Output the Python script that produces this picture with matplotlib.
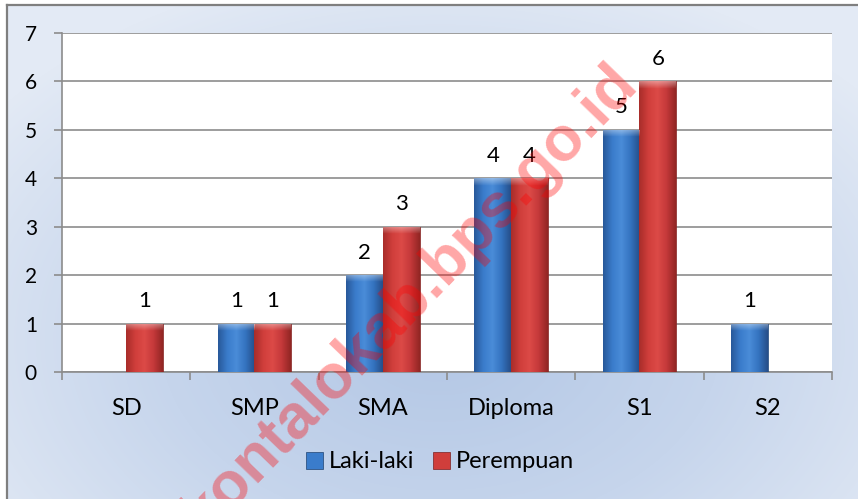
import numpy as np
import matplotlib.pyplot as plt
from matplotlib.colors import LinearSegmentedColormap

# data
categories = ["SD", "SMP", "SMA", "Diploma", "S1", "S2"]
laki_laki = [0, 1, 2, 4, 5, 1]
perempuan = [1, 1, 3, 4, 6, 0]
series_names = ["Laki-laki", "Perempuan"]
y_ticks = [0, 1, 2, 3, 4, 5, 6, 7]
watermark = "kontalokab.bps.go.id"

plt.rcParams['font.family'] = ['Lato', 'DejaVu Sans']

W, H = 858, 499
fig = plt.figure(figsize=(W / 100, H / 100), dpi=100)

# chart area background (soft blue radial gradient with a grey frame)
bg = fig.add_axes([0, 0, 1, 1], zorder=-10)
bg.axis('off')
yy, xx = np.mgrid[5:H, 7:W]
r = np.sqrt(((xx - 440) / 560.0) ** 2 + ((yy - 340) / 380.0) ** 2)
r = np.clip(r, 0, 1)
bg_cmap = LinearSegmentedColormap.from_list("bg", ["#b3c7e5", "#c6d5ec", "#e3eaf5"])
bg.imshow(r, extent=[7, W, H, 5], cmap=bg_cmap, aspect='auto', origin='upper')
bg.plot([7, 7], [H, 5], color='#7f7f7f', lw=1.6)
bg.plot([7, W], [5, 5], color='#7f7f7f', lw=1.6)
bg.set_xlim(0, W)
bg.set_ylim(H, 0)

ax = fig.add_axes([62 / W, 1 - 372 / H, 770 / W, 339 / H])
ax.set_facecolor('white')

x = np.arange(len(categories))
w = 0.286

blue_cmap = LinearSegmentedColormap.from_list(
    "b", ["#28599a", "#3a7ccb", "#4a8cd8", "#3473c0", "#264f8a"])
red_cmap = LinearSegmentedColormap.from_list(
    "r", ["#a82d2a", "#d03e3b", "#dc4a47", "#c5393a", "#922624"])


def shade_bars(bars, cmap):
    grad = np.linspace(0, 1, 64).reshape(1, -1)
    for b in bars:
        h = b.get_height()
        if h <= 0:
            continue
        x0 = b.get_x()
        x1 = x0 + b.get_width()
        im = ax.imshow(grad, extent=[x0, x1, 0, h], cmap=cmap,
                       aspect='auto', zorder=3.1, origin='lower')
        im.set_clip_path(b)
        # light bevel at the top of the bar
        cap = np.zeros((16, 2, 4))
        cap[..., :3] = 1.0
        cap[..., 3] = np.linspace(0.0, 0.4, 16).reshape(-1, 1)
        im2 = ax.imshow(cap, extent=[x0, x1, h - 0.15, h], aspect='auto',
                        zorder=3.2, origin='lower')
        im2.set_clip_path(b)


bars_l = ax.bar(x - w / 2, laki_laki, w, color="#3a7ccb", edgecolor="#1f4270",
                lw=0.5, zorder=3, label=series_names[0])
bars_p = ax.bar(x + w / 2, perempuan, w, color="#d03e3b", edgecolor="#7a2020",
                lw=0.5, zorder=3, label=series_names[1])
shade_bars(bars_l, blue_cmap)
shade_bars(bars_p, red_cmap)

for bars, vals in ((bars_l, laki_laki), (bars_p, perempuan)):
    for b, v in zip(bars, vals):
        if v == 0:
            continue
        ax.annotate(str(v), (b.get_x() + b.get_width() / 2, v),
                    xytext=(0, 9), textcoords='offset points',
                    ha='center', va='bottom', fontsize=16, color='black')

ax.set_xlim(-0.5, len(categories) - 0.5)
ax.set_ylim(0, 7)
ax.set_yticks(y_ticks)
ax.set_xticks(x)
ax.set_xticklabels(categories)
ax.set_xticks(np.arange(len(categories) + 1) - 0.5, minor=True)
ax.tick_params(axis='x', which='major', length=0, pad=19, labelsize=17)
ax.tick_params(axis='x', which='minor', length=6, color='#8c8c8c', width=1.2)
ax.tick_params(axis='y', length=6, pad=12, labelsize=15, color='#8c8c8c', width=1.2)
ax.yaxis.grid(True, color='#8c8c8c', lw=1.2)
ax.set_axisbelow(True)
for side in ('top', 'right'):
    ax.spines[side].set_visible(False)
for side in ('left', 'bottom'):
    ax.spines[side].set_color('#8c8c8c')
    ax.spines[side].set_linewidth(1.2)

fig.legend(handles=[bars_l, bars_p], labels=series_names, loc='center',
           bbox_to_anchor=(440 / W, 1 - 462 / H), ncol=2, frameon=False,
           fontsize=17, handlelength=0.7, handleheight=0.7,
           handletextpad=0.25, columnspacing=0.8)

# site watermark
fig.text(410 / W, 1 - 298 / H, watermark, rotation=46, color='red', alpha=0.35,
         fontsize=45, fontweight='bold', family=['Liberation Sans', 'DejaVu Sans'],
         ha='center', va='center', zorder=10)

fig.savefig("out.png", dpi=100)
